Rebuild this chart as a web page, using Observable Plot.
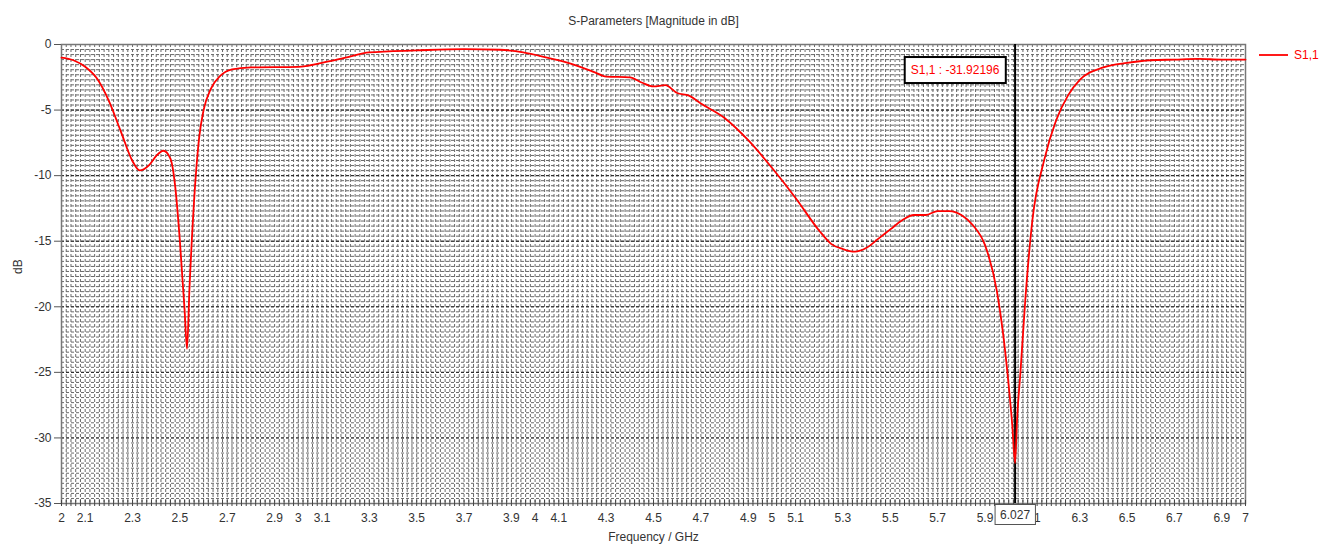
<!DOCTYPE html>
<html><head><meta charset="utf-8">
<script src="https://cdn.jsdelivr.net/npm/d3@7"></script>
<script src="https://cdn.jsdelivr.net/npm/@observablehq/plot@0.6"></script>
<style>
body{margin:0;background:#fff;}
#chart svg{font-family:"Liberation Sans",Arial,sans-serif;}
</style>
</head><body><div id="chart"></div>
<script>
const title = "S-Parameters [Magnitude in dB]";
const xLabel = "Frequency / GHz";
const yLabel = "dB";
const seriesName = "S1,1";
const markerFreq = 6.027;
const markerValue = -31.92196;
const xTickValues = [2,2.1,2.3,2.5,2.7,2.9,3,3.1,3.3,3.5,3.7,3.9,4,4.1,4.3,4.5,4.7,4.9,5,5.1,5.3,5.5,5.7,5.9,6.1,6.3,6.5,6.7,6.9,7];
const yTickValues = [0,-5,-10,-15,-20,-25,-30,-35];

const freq = [2.0,2.05,2.1,2.15,2.2,2.25,2.3,2.33,2.37,2.4,2.43,2.46,2.48,2.5,2.52,2.53,2.54,2.56,2.58,2.6,2.63,2.67,2.72,2.8,3.0,3.1,3.2,3.3,3.5,3.7,3.85,3.95,4.05,4.15,4.25,4.3,4.4,4.45,4.5,4.55,4.6,4.65,4.7,4.8,4.9,5.0,5.1,5.2,5.25,5.3,5.35,5.4,5.45,5.5,5.55,5.6,5.65,5.7,5.75,5.8,5.85,5.9,5.95,5.98,6.0,6.015,6.027,6.035,6.05,6.07,6.1,6.15,6.2,6.25,6.3,6.4,6.5,6.6,6.7,6.8,6.9,7.0];
const s11 = [-1.0,-1.2,-1.7,-2.6,-4.3,-6.6,-8.9,-9.6,-9.2,-8.5,-8.1,-8.7,-10.8,-15.0,-20.3,-23.2,-18.8,-11.9,-7.3,-5.0,-3.4,-2.4,-1.9,-1.75,-1.7,-1.4,-1.0,-0.6,-0.45,-0.35,-0.4,-0.6,-1.0,-1.45,-2.1,-2.45,-2.5,-2.9,-3.2,-3.1,-3.7,-3.9,-4.5,-5.6,-7.3,-9.4,-11.7,-14.2,-15.2,-15.6,-15.8,-15.5,-14.8,-14.1,-13.4,-13.0,-13.0,-12.7,-12.7,-13.0,-13.8,-15.3,-18.8,-22.6,-26.0,-29.0,-31.92196,-28.7,-24.9,-19.5,-13.4,-8.8,-5.8,-3.9,-2.7,-1.75,-1.4,-1.2,-1.15,-1.1,-1.15,-1.15];

const data = freq.map((f, i) => ({f, v: s11[i]}));
const minorX = d3.range(0, 251).map(i => 2 + i * 0.02);
const minorY = d3.range(0, 92).map(i => -i * 5 / 13);
const markerText = `${seriesName} : ${markerValue}`;
const markerTick = String(markerFreq);

const plot = Plot.plot({
  width: 1330, height: 550,
  marginLeft: 61, marginRight: 85, marginTop: 44, marginBottom: 47,
  x: {domain: [2, 7], label: null},
  y: {domain: [-35, 0], label: null},
  style: {fontFamily: '"Liberation Sans", Arial, sans-serif', fontSize: "12px", color: "#333", background: "#fff"},
  marks: [
    Plot.ruleX(minorX, {stroke: "#6a6a6a", strokeWidth: 1, strokeDasharray: "3,2"}),
    Plot.ruleY(minorY, {stroke: "#6a6a6a", strokeWidth: 1, strokeDasharray: "3,2"}),
    Plot.ruleY(yTickValues, {stroke: "#222", strokeWidth: 1, strokeDasharray: "3,2"}),
    Plot.frame({stroke: "#777", strokeWidth: 1.5}),
    Plot.ruleX(minorX, {y1: -35, y2: -35, insetTop: 3, insetBottom: 3, stroke: "#444", strokeWidth: 1}),
    Plot.axisY({ticks: yTickValues, tickSize: 7, tickPadding: 3, tickFormat: d => String(d), stroke: "#555", fontSize: 12, label: null}),
    Plot.axisX({ticks: xTickValues, tickSize: 0, tickPadding: 10, tickFormat: d => String(d), fontSize: 12, label: null}),
    Plot.ruleX([markerFreq], {stroke: "#000", strokeWidth: 2}),
    Plot.line(data, {x: "f", y: "v", stroke: "#ff0000", strokeWidth: 1.8, curve: "monotone-x"}),
    Plot.text([markerText], {text: d => d, x: markerFreq, frameAnchor: "top", dx: -60, dy: 21, fill: "#ff0000", fontSize: 12}),
    Plot.text([markerTick], {text: d => d, x: markerFreq, frameAnchor: "bottom", dy: 15, fill: "#333", fontSize: 12}),
    Plot.text([title], {frameAnchor: "top", dy: -28, fill: "#333", fontSize: 12}),
    Plot.text([xLabel], {frameAnchor: "bottom", dy: 37, fill: "#333", fontSize: 12}),
    Plot.text([yLabel], {frameAnchor: "left", dx: -43, rotate: -90, fill: "#333", fontSize: 12})
  ]
});
document.getElementById("chart").appendChild(plot);

// boxes behind marker label and marker tick
plot.querySelectorAll("text").forEach(t => {
  const txt = t.textContent;
  if (txt === markerText || txt === markerTick) {
    const b = t.getBBox();
    const isLabel = txt === markerText;
    const padX = isLabel ? 6 : 5;
    const padY = isLabel ? 6 : 3;
    const r = document.createElementNS("http://www.w3.org/2000/svg", "rect");
    r.setAttribute("x", b.x - padX);
    r.setAttribute("y", b.y - padY);
    r.setAttribute("width", b.width + 2 * padX);
    r.setAttribute("height", b.height + 2 * padY);
    r.setAttribute("fill", "#fff");
    r.setAttribute("stroke", isLabel ? "#000" : "#555");
    r.setAttribute("stroke-width", isLabel ? 2 : 1);
    if (t.getAttribute("transform")) r.setAttribute("transform", t.getAttribute("transform"));
    t.parentNode.insertBefore(r, t);
  }
});

// legend at right
const svg = d3.select(plot);
const lx = 1330 - 85 + 14, ly = 55;
svg.append("line").attr("x1", lx).attr("x2", lx + 29).attr("y1", ly).attr("y2", ly)
  .attr("stroke", "#ff0000").attr("stroke-width", 1.8);
svg.append("text").attr("x", lx + 35).attr("y", ly).attr("dy", "0.35em")
  .attr("text-anchor", "start")
  .attr("fill", "#ff0000").attr("font-size", 12).text(seriesName);
</script>
</body></html>
